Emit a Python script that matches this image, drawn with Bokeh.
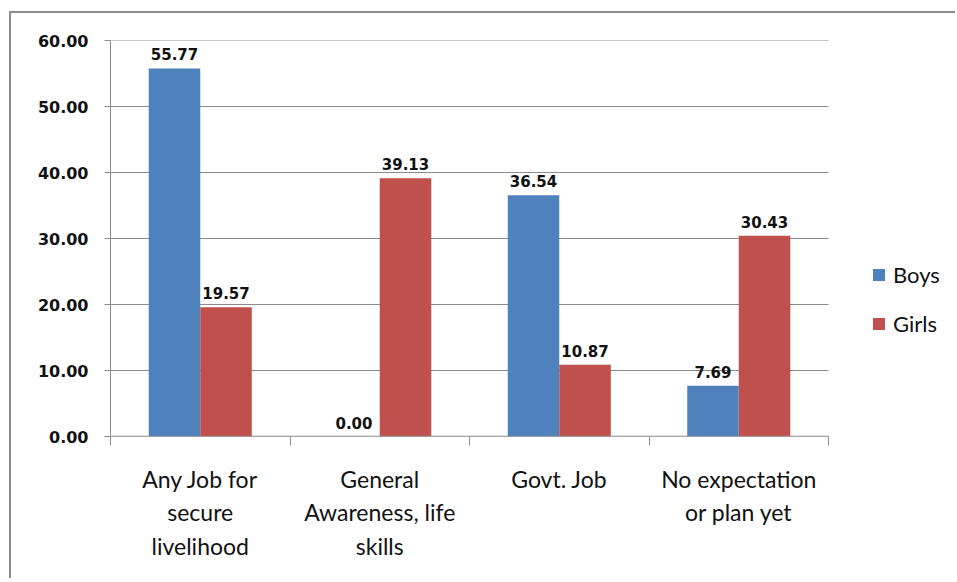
from bokeh.plotting import figure
from bokeh.models import (ColumnDataSource, FixedTicker, NumeralTickFormatter, Range1d,
                          Legend, LegendItem, LabelSet)
from bokeh.core.properties import value
from bokeh.transform import dodge
from bokeh.embed import file_html
from bokeh.resources import INLINE

categories = ["Any Job for\nsecure\nlivelihood", "General\nAwareness, life\nskills",
              "Govt. Job", "No expectation\nor plan yet"]
boys = [55.77, 0.00, 36.54, 7.69]
girls = [19.57, 39.13, 10.87, 30.43]
y_ticks = [0, 10, 20, 30, 40, 50, 60]

BLUE = "#4F81BD"
RED = "#C0504D"
GRID = "#8c8c8c"

n = len(categories)
xpos = [i + 0.5 for i in range(n)]
src = ColumnDataSource(dict(
    x=xpos, boys=boys, girls=girls,
    boys_lbl=["%.2f" % v for v in boys],
    girls_lbl=["%.2f" % v for v in girls],
))

W, H = 946, 567
ML, MR = 99, 0
# frame spans the categories plus blank room on the right for the legend
x_end = n * (W - ML - MR) / 718.0

p = figure(width=W, height=H, output_backend="svg", toolbar_location=None,
           x_range=Range1d(0, x_end), y_range=Range1d(0, 60),
           min_border_left=ML, min_border_top=27, min_border_right=MR,
           min_border_bottom=144)
p.outline_line_color = None
p.background_fill_color = "white"
p.border_fill_color = "white"
p.styles = {"border-left": "2px solid #8c8c8c", "border-top": "2px solid #8c8c8c",
            "margin-top": "11px", "margin-left": "9px"}

# gridlines limited to the category area
p.segment(x0=[0] * len(y_ticks), x1=[n] * len(y_ticks), y0=y_ticks, y1=y_ticks,
          line_color=GRID, line_width=1)

bw = 0.287
off = 0.1435
rb = p.vbar(x=dodge("x", -off, range=p.x_range), top="boys", width=bw, source=src,
            fill_color=BLUE, line_color=None)
rg = p.vbar(x=dodge("x", off, range=p.x_range), top="girls", width=bw, source=src,
            fill_color=RED, line_color=None)

lbl_font = "DejaVu Sans"
for col, lab, dx in (("boys", "boys_lbl", -off), ("girls", "girls_lbl", off)):
    ls = LabelSet(x=dodge("x", dx, range=p.x_range), y=col, text=lab, source=src,
                  text_align="center", text_baseline="bottom", y_offset=8,
                  text_font=value(lbl_font), text_font_size=value("15px"),
                  text_font_style=value("bold"), text_color=value("#111111"))
    p.add_layout(ls)

# y axis
p.yaxis.ticker = FixedTicker(ticks=y_ticks, minor_ticks=[])
p.yaxis.formatter = NumeralTickFormatter(format="0.00")
p.yaxis.axis_line_color = GRID
p.yaxis.major_tick_line_color = GRID
p.yaxis.major_tick_out = 6
p.yaxis.major_tick_in = 0
p.yaxis.minor_tick_line_color = None
p.yaxis.major_label_standoff = 16
p.yaxis.major_label_text_font = lbl_font
p.yaxis.major_label_text_font_size = "16px"
p.yaxis.major_label_text_font_style = "bold"
p.yaxis.major_label_text_color = "#111111"

p.ygrid.grid_line_color = None
p.xgrid.grid_line_color = None

# x axis: labels at centers, ticks at category boundaries
p.xaxis.ticker = FixedTicker(ticks=xpos, minor_ticks=list(range(n + 1)))
p.xaxis.major_label_overrides = {x: c for x, c in zip(xpos, categories)}
p.xaxis.major_tick_line_color = None
p.xaxis.minor_tick_line_color = GRID
p.xaxis.minor_tick_out = 9
p.xaxis.minor_tick_in = 0
p.xaxis.axis_line_color = None
p.xaxis.major_label_standoff = 19
p.xaxis.major_label_text_font = "Lato"
p.xaxis.major_label_text_font_size = "23px"
p.xaxis.major_label_text_color = "#111111"
p.xaxis.major_label_text_line_height = 1.2

# x axis baseline over the category area only
p.segment(x0=[0], x1=[n], y0=[0], y1=[0], line_color=GRID, line_width=1.5)

legend = Legend(items=[LegendItem(label="Boys", renderers=[rb]),
                       LegendItem(label="Girls", renderers=[rg])],
                location=(761, 99), orientation="vertical",
                label_text_font="Lato", label_text_font_size="22px",
                label_text_color="#111111",
                glyph_width=15, glyph_height=15, label_standoff=7,
                spacing=22, padding=0, margin=0,
                border_line_color=None, background_fill_alpha=0)
p.add_layout(legend)

open("out.html", "w").write(file_html(p, INLINE))
